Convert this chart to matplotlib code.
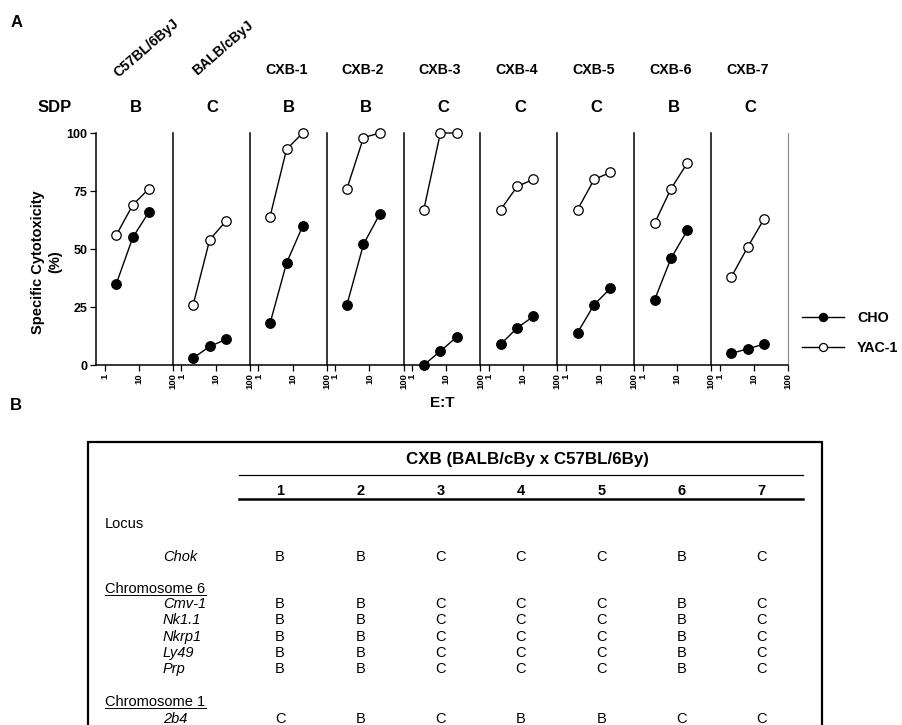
import numpy as np
import matplotlib
matplotlib.use('Agg')
import matplotlib.pyplot as plt
from matplotlib.ticker import NullLocator

plt.rcParams['font.family'] = ['Liberation Sans', 'DejaVu Sans']

# ---- panel A data ----
strains = ['C57BL/6ByJ', 'BALB/cByJ', 'CXB-1', 'CXB-2', 'CXB-3',
           'CXB-4', 'CXB-5', 'CXB-6', 'CXB-7']
sdp = ['B', 'C', 'B', 'B', 'C', 'C', 'C', 'B', 'C']
et_ratio = [2.2, 6.7, 20]
yac1 = [[56, 69, 76], [26, 54, 62], [64, 93, 100], [76, 98, 100], [67, 100, 100],
        [67, 77, 80], [67, 80, 83], [61, 76, 87], [38, 51, 63]]
cho = [[35, 55, 66], [3, 8, 11], [18, 44, 60], [26, 52, 65], [0, 6, 12],
       [9, 16, 21], [14, 26, 33], [28, 46, 58], [5, 7, 9]]
y_ticks = [0, 25, 50, 75, 100]
x_ticks = [1, 10, 100]

# ---- panel B data ----
cxb_cols = ['1', '2', '3', '4', '5', '6', '7']
locus_chok = ['Chok']
alleles_chok = [['B', 'B', 'C', 'C', 'C', 'B', 'C']]
loci_chr6 = ['Cmv-1', 'Nk1.1', 'Nkrp1', 'Ly49', 'Prp']
alleles_chr6 = [['B', 'B', 'C', 'C', 'C', 'B', 'C']] * 5
loci_chr1 = ['2b4']
alleles_chr1 = [['C', 'B', 'C', 'B', 'B', 'C', 'C']]

W, H = 902, 725
fig = plt.figure(figsize=(W / 100, H / 100), dpi=100)

# overlay axes in pixel coordinates for labels / table
ov = fig.add_axes([0, 0, 1, 1])
ov.set_xlim(0, W)
ov.set_ylim(H, 0)
ov.axis('off')

x0, x1 = 96, 788
top, bot = 133, 365
pw = (x1 - x0) / len(strains)

handles = None
for i, name in enumerate(strains):
    left = x0 + i * pw
    ax = fig.add_axes([left / W, 1 - bot / H, pw / W, (bot - top) / H])
    ax.patch.set_alpha(0)
    ax.set_xscale('log')
    ax.set_xlim(0.56, 100)
    ax.set_ylim(0, 100)
    l_cho, = ax.plot(et_ratio, cho[i], '-o', color='k', mfc='k', mec='k',
                     ms=6.8, lw=1.0, clip_on=False, zorder=3)
    l_yac, = ax.plot(et_ratio, yac1[i], '-o', color='k', mfc='white', mec='k',
                     ms=6.8, mew=0.9, lw=1.0, clip_on=False, zorder=3)
    handles = [l_cho, l_yac]
    ax.spines['top'].set_visible(False)
    if i < len(strains) - 1:
        ax.spines['right'].set_visible(False)
    else:
        ax.spines['right'].set_color('#888888')
        ax.spines['right'].set_linewidth(0.8)
    ax.spines['left'].set_linewidth(1.1)
    ax.spines['bottom'].set_linewidth(1.1)
    ax.set_xticks(x_ticks)
    ax.xaxis.set_minor_locator(NullLocator())
    ax.set_xticklabels([str(t) for t in x_ticks], rotation=90,
                       fontsize=6.8, fontweight='bold')
    ax.tick_params(axis='x', direction='out', length=4, width=0.9, pad=2)
    if i == 0:
        ax.set_yticks(y_ticks)
        ax.set_yticklabels([str(t) for t in y_ticks], fontsize=9, fontweight='bold')
        ax.tick_params(axis='y', direction='out', length=4, width=0.9, pad=2)
    else:
        ax.tick_params(axis='y', left=False, labelleft=False)

    cx = left + pw / 2
    if name.startswith('CXB'):
        ov.text(cx - 2, 70, name, ha='center', va='center',
                fontsize=10.2, fontweight='bold')
    else:
        ov.text(cx + 12, 48, name, ha='center', va='center', rotation=41,
                rotation_mode='anchor', fontsize=10, fontweight='bold')
    ov.text(cx + 1, 107, sdp[i], ha='center', va='center',
            fontsize=12, fontweight='bold')

ov.text(55, 107, 'SDP', ha='center', va='center', fontsize=12, fontweight='bold')
ov.text(17, 22, 'A', ha='center', va='center', fontsize=12, fontweight='bold')
ov.text(16, 405, 'B', ha='center', va='center', fontsize=12, fontweight='bold')
ov.text(38, 262, 'Specific Cytotoxicity', ha='center', va='center', rotation=90,
        fontsize=10.5, fontweight='bold')
ov.text(55, 262, '(%)', ha='center', va='center', rotation=90,
        fontsize=10.5, fontweight='bold')
ov.text((x0 + x1) / 2, 403, 'E:T', ha='center', va='center',
        fontsize=11, fontweight='bold')

fig.legend(handles, ['CHO', 'YAC-1'], loc='center left',
           bbox_to_anchor=(789 / W, 1 - 333 / H), frameon=False,
           handlelength=2.95, handletextpad=0.9, labelspacing=1.1,
           markerscale=0.85, prop={'weight': 'bold', 'size': 10.3})

# ---- table (panel B) ----
ov.plot([88, 88, 822, 822], [H + 5, 442, 442, H + 5], color='k', lw=1.6,
        clip_on=False, solid_joinstyle='miter')
ov.text(527, 459, 'CXB (BALB/cBy x C57BL/6By)', ha='center', va='center',
        fontsize=12.2, fontweight='bold')
ov.plot([239, 803], [475, 475], color='k', lw=0.9)
ov.plot([239, 803], [499, 499], color='k', lw=1.8)
col_x = [280 + 80.3 * j for j in range(len(cxb_cols))]
for x, c in zip(col_x, cxb_cols):
    ov.text(x, 495, c, ha='center', va='baseline', fontsize=10.5, fontweight='bold')


def row(y, locus, vals):
    ov.text(163, y + 5, locus, ha='left', va='baseline', fontsize=10.5, style='italic')
    for x, v in zip(col_x, vals):
        ov.text(x, y + 5, v, ha='center', va='baseline', fontsize=10.5)


def heading(y, label, underline=False):
    ov.text(105, y + 5, label, ha='left', va='baseline', fontsize=10.5)
    if underline:
        ov.plot([105, 206], [y + 7, y + 7], color='k', lw=0.7)


heading(523, 'Locus')
for locus, vals in zip(locus_chok, alleles_chok):
    row(556, locus, vals)
heading(588, 'Chromosome 6', underline=True)
for k, (locus, vals) in enumerate(zip(loci_chr6, alleles_chr6)):
    row(603 + 16.3 * k, locus, vals)
heading(701, 'Chromosome 1', underline=True)
for locus, vals in zip(loci_chr1, alleles_chr1):
    row(718, locus, vals)

fig.savefig('out.png', dpi=100)
